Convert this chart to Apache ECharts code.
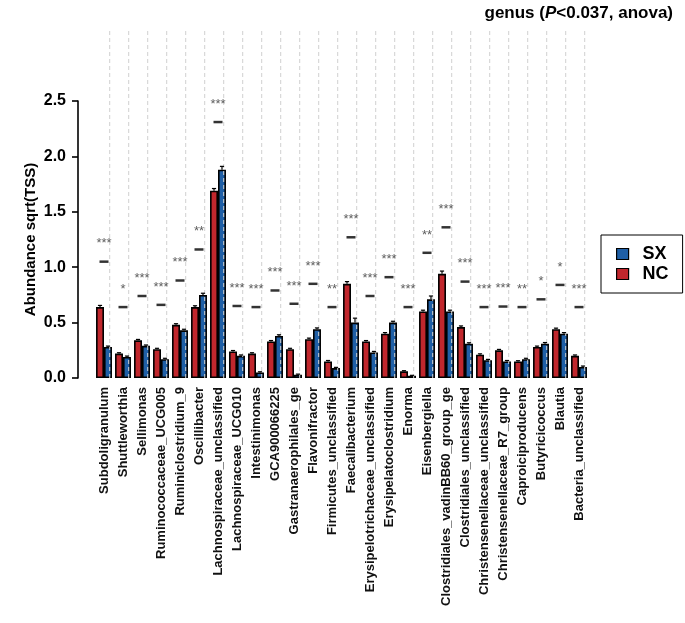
<!DOCTYPE html>
<html>
<head>
<meta charset="utf-8">
<script src="https://cdn.jsdelivr.net/npm/echarts@6/dist/echarts.min.js"></script>
<style>
html,body{margin:0;padding:0;background:#fff;}
#chart{width:685px;height:623px;}
</style>
</head>
<body>
<div id="chart"></div>
<script>
const categories = ['Subdoligranulum','Shuttleworthia','Sellimonas','Ruminococcaceae_UCG005','Ruminiclostridium_9','Oscillibacter','Lachnospiraceae_unclassified','Lachnospiraceae_UCG010','Intestinimonas','GCA900066225','Gastranaerophilales_ge','Flavonifractor','Firmicutes_unclassified','Faecalibacterium','Erysipelotrichaceae_unclassified','Erysipelatoclostridium','Enorma','Eisenbergiella','Clostridiales_vadinBB60_group_ge','Clostridiales_unclassified','Christensenellaceae_unclassified','Christensenellaceae_R7_group','Caproiciproducens','Butyricicoccus','Blautia','Bacteria_unclassified'];
const ncValues = [0.64,0.22,0.34,0.26,0.48,0.64,1.69,0.24,0.22,0.33,0.26,0.35,0.15,0.85,0.33,0.40,0.06,0.60,0.94,0.46,0.21,0.25,0.15,0.28,0.44,0.20];
const sxValues = [0.28,0.19,0.29,0.17,0.43,0.75,1.88,0.20,0.05,0.38,0.03,0.44,0.09,0.50,0.23,0.50,0.02,0.71,0.60,0.31,0.16,0.15,0.17,0.31,0.40,0.10];
const ncErr = [0.015,0.008,0.008,0.008,0.01,0.012,0.02,0.008,0.008,0.008,0.008,0.01,0.008,0.02,0.008,0.01,0.006,0.012,0.025,0.01,0.008,0.008,0.006,0.008,0.01,0.008];
const sxErr = [0.008,0.008,0.008,0.008,0.01,0.015,0.03,0.008,0.006,0.01,0.005,0.012,0.006,0.04,0.01,0.012,0.004,0.03,0.012,0.008,0.008,0.008,0.008,0.01,0.01,0.008];
const sigLevels = [1.05,0.64,0.74,0.66,0.88,1.16,2.31,0.65,0.64,0.79,0.67,0.85,0.64,1.27,0.74,0.91,0.64,1.13,1.36,0.87,0.64,0.645,0.64,0.71,0.84,0.64];
const sigStars = ['***','*','***','***','***','**','***','***','***','***','***','***','**','***','***','***','***','**','***','***','***','***','**','*','*','***'];
const yTicks = [0,0.5,1.0,1.5,2.0,2.5];

const FONT = "'Liberation Sans', Arial, Helvetica, sans-serif";
const RED = '#c1272d';
const BLUE = '#1f5fa6';
const BAR_FRAC = 0.42;

function errRender(sign){
  return function(params, api){
    const i = api.value(0), v = api.value(1), e = api.value(2);
    const band = api.size([1,0])[0];
    const base = api.coord([i, v]);
    const top = api.coord([i, v + e]);
    const cx = base[0] + sign * band * BAR_FRAC / 2;
    const cap = band * 0.22;
    return {type:'group', children:[
      {type:'line', shape:{x1:cx,y1:base[1],x2:cx,y2:top[1]}, style:{stroke:'#000',lineWidth:1.2}},
      {type:'line', shape:{x1:cx-cap/2,y1:top[1],x2:cx+cap/2,y2:top[1]}, style:{stroke:'#000',lineWidth:1.2}}
    ]};
  };
}

const chart = echarts.init(document.getElementById('chart'), null, {renderer:'canvas'});
const option = {
  backgroundColor:'#fff',
  animation:false,
  title:{
    text:'{b|genus (}{i|P}{b|<0.037, anova)}',
    right:7, top:0,
    textStyle:{rich:{
      b:{fontFamily:FONT,fontWeight:'bold',fontSize:17,color:'#000'},
      i:{fontFamily:FONT,fontWeight:'bold',fontStyle:'italic',fontSize:17,color:'#000'}
    }}
  },
  legend:{
    data:['SX','NC'],
    orient:'vertical',
    left:601, top:235,
    padding:[10,14,10,15],
    borderColor:'#000', borderWidth:1,
    itemWidth:12, itemHeight:11, itemGap:2,
    icon:'rect',
    itemStyle:{borderColor:'#000',borderWidth:1.2},
    textStyle:{fontFamily:FONT,fontWeight:'bold',fontSize:18,color:'#000',padding:[0,0,0,9],lineHeight:18}
  },
  grid:{left:94.5, right:96.5, top:101, bottom:245},
  xAxis:{
    type:'category',
    data:categories,
    axisLine:{show:false},
    axisTick:{show:false},
    splitLine:{show:false},
    axisLabel:{rotate:90, margin:9, fontFamily:FONT, fontWeight:'bold', fontSize:13, color:'#111', interval:0}
  },
  yAxis:{
    type:'value',
    min:0, max:2.5, interval:0.5,
    offset:16.5,
    name:'Abundance sqrt(TSS)',
    nameLocation:'middle',
    nameGap:40,
    nameMoveOverlap:false,
    nameTextStyle:{fontFamily:FONT,fontWeight:'bold',fontSize:15,color:'#000'},
    axisLine:{show:true, lineStyle:{color:'#000',width:1.6}},
    axisTick:{show:true, length:6, lineStyle:{color:'#000',width:1.6}},
    splitLine:{show:false},
    axisLabel:{margin:12, fontFamily:FONT, fontWeight:'bold', fontSize:16, color:'#000',
      formatter:function(v){return yTicks.indexOf(v) >= 0 ? v.toFixed(1) : '';}}
  },
  series:[
    {
      type:'custom', name:'grid', silent:true, clip:false, z:4,
      data:categories.map(function(c,i){return [i];}),
      encode:{x:0},
      renderItem:function(params, api){
        const i = api.value(0);
        const band = api.size([1,0])[0];
        const p0 = api.coord([i,0]);
        const p1 = api.coord([i,3.14]);
        const x = p0[0] + band*0.3;
        return {type:'line', shape:{x1:x,y1:p0[1],x2:x,y2:p1[1]},
          style:{stroke:'#d0d0d0',lineWidth:1,lineDash:[4,3]}};
      }
    },
    {
      name:'NC', type:'bar', data:ncValues, barWidth:(BAR_FRAC*100)+'%', barGap:'0%',
      itemStyle:{color:RED, borderColor:'#000', borderWidth:1.6}, z:2
    },
    {
      name:'SX', type:'bar', data:sxValues, barWidth:(BAR_FRAC*100)+'%', barGap:'0%',
      itemStyle:{color:BLUE, borderColor:'#000', borderWidth:1.6}, z:2
    },
    {
      type:'custom', name:'ncErr', silent:true, z:5,
      data:ncValues.map(function(v,i){return [i,v,ncErr[i]];}),
      encode:{x:0,y:1},
      renderItem:errRender(-1)
    },
    {
      type:'custom', name:'sxErr', silent:true, z:5,
      data:sxValues.map(function(v,i){return [i,v,sxErr[i]];}),
      encode:{x:0,y:1},
      renderItem:errRender(1)
    },
    {
      type:'scatter', name:'sig', silent:true, z:6, clip:false,
      data:sigLevels.map(function(v,i){return [i,v];}),
      symbol:'rect', symbolSize:[9,2.5],
      itemStyle:{color:'#000'},
      label:{show:true, position:'top', distance:10,
        formatter:function(p){return sigStars[p.dataIndex];},
        fontFamily:FONT, fontSize:13, color:'#333'}
    }
  ]
};
chart.setOption(option);
</script>
</body>
</html>
